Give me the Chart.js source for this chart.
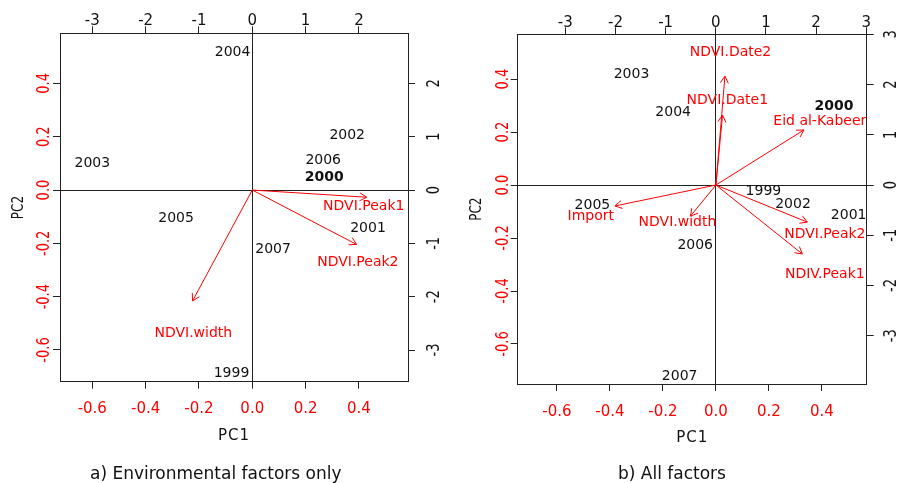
<!DOCTYPE html>
<html>
<head>
<meta charset="utf-8">
<title>PCA biplots</title>
<script src="https://cdn.jsdelivr.net/npm/chart.js@4/dist/chart.umd.min.js"></script>
<style>
  html, body { margin: 0; padding: 0; background: #ffffff; }
  #wrap { position: relative; width: 898px; height: 483px; overflow: hidden; }
  canvas { position: absolute; top: 0; }
  #panelA { left: 0; }
  #panelB { left: 449px; }
</style>
</head>
<body>
<div id="wrap">
  <canvas id="panelA" width="449" height="483"></canvas>
  <canvas id="panelB" width="449" height="483"></canvas>
</div>
<script>
// ---- tick labels ----
const loadingTicks = [-0.6, -0.4, -0.2, 0.0, 0.2, 0.4];
const scoreTicksA = [-3, -2, -1, 0, 1, 2];
const scoreTicksB = [-3, -2, -1, 0, 1, 2, 3];

// ---- a) Environmental factors only ----
// year scores (PC1, PC2)
const yearsA = ['2004', '2003', '2002', '2006', '2000', '2005', '2001', '2007', '1999'];
const scorePC1A = [-0.37, -3.00, 1.78, 1.33, 1.35, -1.43, 2.17, 0.39, -0.39];
const scorePC2A = [2.58, 0.50, 1.03, 0.55, 0.24, -0.53, -0.72, -1.12, -3.44];
// variable loadings: arrow tips and label anchors
const varsA = ['NDVI.Peak1', 'NDVI.Peak2', 'NDVI.width'];
const arrowPC1A = [0.429, 0.391, -0.224];
const arrowPC2A = [-0.027, -0.204, -0.416];
const labelPC1A = [0.418, 0.396, -0.221];
const labelPC2A = [-0.063, -0.273, -0.537];

// ---- b) All factors ----
const yearsB = ['2003', '2004', '2000', '1999', '2002', '2001', '2005', '2006', '2007'];
const scorePC1B = [-1.68, -0.85, 2.36, 0.95, 1.54, 2.65, -2.46, -0.41, -0.72];
const scorePC2B = [2.20, 1.44, 1.56, -0.13, -0.38, -0.61, -0.40, -1.20, -3.81];
const varsB = ['NDVI.Date2', 'NDVI.Date1', 'Eid al-Kabeer', 'Import', 'NDVI.width', 'NDVI.Peak2', 'NDIV.Peak1'];
const arrowPC1B = [0.034, 0.025, 0.332, -0.381, -0.096, 0.345, 0.326];
const arrowPC2B = [0.411, 0.264, 0.208, -0.079, -0.117, -0.140, -0.260];
const labelPC1B = [0.055, 0.043, 0.392, -0.472, -0.145, 0.411, 0.411];
const labelPC2B = [0.501, 0.321, 0.239, -0.120, -0.142, -0.186, -0.337];

const boldYear = '2000';

// ---- styling ----
const FONT = '"DejaVu Sans", "Liberation Sans", sans-serif';
const RED = '#ff0000';
const INK = '#111111';
const FRAME = '#222222';

function rotatedText(ctx, text, x, y, px, alongScale, acrossScale) {
  ctx.save();
  ctx.translate(x, y);
  ctx.rotate(-Math.PI / 2);
  ctx.scale(alongScale, acrossScale);
  ctx.font = px + 'px ' + FONT;
  ctx.textAlign = 'center';
  ctx.textBaseline = 'middle';
  ctx.fillText(text, 0, 0);
  ctx.restore();
}

// Arrow heads, text labels, tick labels, axis titles and caption.
const biplotDecor = {
  id: 'biplotDecor',
  afterDatasetsDraw(chart, args, o) {
    const ctx = chart.ctx;
    const a = chart.chartArea;
    const s = chart.scales;
    ctx.save();

    // arrow heads on loading vectors
    chart.data.datasets.forEach((ds, i) => {
      if (ds.role !== 'arrow') return;
      const pts = chart.getDatasetMeta(i).data;
      const p0 = pts[0], p1 = pts[1];
      const ang = Math.atan2(p1.y - p0.y, p1.x - p0.x);
      ctx.strokeStyle = RED;
      ctx.lineWidth = 1;
      ctx.beginPath();
      [-1, 1].forEach(d => {
        ctx.moveTo(p1.x, p1.y);
        ctx.lineTo(p1.x - o.headLen * Math.cos(ang + d * Math.PI / 6),
                   p1.y - o.headLen * Math.sin(ang + d * Math.PI / 6));
      });
      ctx.stroke();
    });

    // year and variable labels
    chart.data.datasets.forEach((ds, i) => {
      if (ds.role !== 'labels') return;
      const pts = chart.getDatasetMeta(i).data;
      ds.data.forEach((d, j) => {
        ctx.font = (d.bold ? 'bold ' : '') + '14px ' + FONT;
        ctx.fillStyle = ds.textColor;
        ctx.textAlign = 'center';
        ctx.textBaseline = 'middle';
        ctx.fillText(d.label, pts[j].x, pts[j].y);
      });
    });

    // bottom (loadings, red) and top (scores, black) tick labels
    ctx.font = '15px ' + FONT;
    ctx.textAlign = 'center';
    ctx.textBaseline = 'middle';
    ctx.fillStyle = RED;
    s.x.ticks.forEach(t => {
      ctx.fillText(t.value.toFixed(1), s.x.getPixelForValue(t.value), a.bottom + o.gapBottom);
    });
    ctx.fillStyle = INK;
    s.x2.ticks.forEach(t => {
      ctx.fillText(String(t.value), s.x2.getPixelForValue(t.value), a.top - o.gapTop);
    });

    // left (loadings, red) and right (scores, black) tick labels
    ctx.fillStyle = RED;
    s.y.ticks.forEach(t => {
      rotatedText(ctx, t.value.toFixed(1), a.left - o.gapLeft, s.y.getPixelForValue(t.value), 13, 1, 1.3);
    });
    ctx.fillStyle = INK;
    s.y2.ticks.forEach(t => {
      rotatedText(ctx, String(t.value), a.right + o.gapRight, s.y2.getPixelForValue(t.value), 13, 1, 1.3);
    });

    // axis titles
    ctx.fillStyle = INK;
    ctx.font = '15px ' + FONT;
    ctx.letterSpacing = '1px';
    ctx.textAlign = 'center';
    ctx.textBaseline = 'middle';
    ctx.fillText(o.xTitle, (a.left + a.right) / 2, a.bottom + o.gapTitleX);
    ctx.letterSpacing = '0px';
    rotatedText(ctx, o.yTitle, a.left - o.gapTitleY, (a.top + a.bottom) / 2, 12, 1, 1.3);

    // panel caption
    ctx.font = '17px ' + FONT;
    ctx.textAlign = 'left';
    ctx.textBaseline = 'alphabetic';
    ctx.fillText(o.caption, o.captionX, o.captionY);

    ctx.restore();
  }
};

function axis(position, range, ticks, onArea, fixedSize) {
  const horizontal = position === 'top' || position === 'bottom';
  return {
    type: 'linear',
    position: position,
    min: range[0],
    max: range[1],
    bounds: 'data',
    afterBuildTicks: sc => { sc.ticks = ticks.map(v => ({ value: v })); },
    ticks: { display: false },
    grid: {
      drawOnChartArea: onArea,
      drawTicks: true,
      tickLength: 7,
      lineWidth: 1,
      color: c => (c.tick && Math.abs(c.tick.value) < 1e-9) ? FRAME : 'rgba(0,0,0,0)',
      tickColor: FRAME
    },
    border: { display: true, color: FRAME, width: 1 },
    afterFit: sc => {
      if (horizontal) sc.height = fixedSize; else sc.width = fixedSize;
    }
  };
}

function buildPanel(canvasId, p) {
  const datasets = [];
  // loading vectors from the origin
  p.arrowX.forEach((x, i) => {
    datasets.push({
      type: 'line', role: 'arrow', xAxisID: 'x', yAxisID: 'y',
      data: [{ x: 0, y: 0 }, { x: x, y: p.arrowY[i] }],
      borderColor: RED, borderWidth: 1, pointRadius: 0, fill: false, tension: 0
    });
  });
  // year scores
  datasets.push({
    type: 'scatter', role: 'labels', textColor: INK, xAxisID: 'x2', yAxisID: 'y2',
    data: p.years.map((y, i) => ({ x: p.scoreX[i], y: p.scoreY[i], label: y, bold: y === boldYear })),
    pointRadius: 0
  });
  // variable names at the loadings
  datasets.push({
    type: 'scatter', role: 'labels', textColor: RED, xAxisID: 'x', yAxisID: 'y',
    data: p.vars.map((v, i) => ({ x: p.labelX[i], y: p.labelY[i], label: v, bold: false })),
    pointRadius: 0
  });

  return new Chart(document.getElementById(canvasId), {
    data: { datasets: datasets },
    options: {
      responsive: false,
      animation: false,
      events: [],
      layout: { padding: 0 },
      scales: {
        x: axis('bottom', p.xRange, loadingTicks, true, p.box.bottom),
        x2: axis('top', p.x2Range, p.scoreTicks, false, p.box.top),
        y: axis('left', p.yRange, loadingTicks, true, p.box.left),
        y2: axis('right', p.y2Range, p.scoreTicks, false, p.box.right)
      },
      plugins: {
        legend: { display: false },
        tooltip: { enabled: false },
        title: { display: false },
        biplotDecor: p.decor
      }
    },
    plugins: [biplotDecor]
  });
}

buildPanel('panelA', {
  years: yearsA, scoreX: scorePC1A, scoreY: scorePC2A,
  vars: varsA, arrowX: arrowPC1A, arrowY: arrowPC2A, labelX: labelPC1A, labelY: labelPC2A,
  scoreTicks: scoreTicksA,
  xRange: [-0.721, 0.584], x2Range: [-3.606, 2.920],
  yRange: [-0.719, 0.588], y2Range: [-3.594, 2.938],
  box: { left: 60, right: 41, top: 33.3, bottom: 101.3 },
  decor: {
    headLen: 8, gapBottom: 27.3, gapTop: 12.6, gapLeft: 15, gapRight: 27,
    gapTitleX: 54.5, gapTitleY: 41, xTitle: 'PC1', yTitle: 'PC2',
    caption: 'a) Environmental factors only', captionX: 90, captionY: 479
  }
});

buildPanel('panelB', {
  years: yearsB, scoreX: scorePC1B, scoreY: scorePC2B,
  vars: varsB, arrowX: arrowPC1B, arrowY: arrowPC2B, labelX: labelPC1B, labelY: labelPC2B,
  scoreTicks: scoreTicksB,
  xRange: [-0.748, 0.569], x2Range: [-3.95, 3.01],
  yRange: [-0.751, 0.569], y2Range: [-3.96, 3.00],
  box: { left: 68.7, right: 31.3, top: 34.3, bottom: 99 },
  decor: {
    headLen: 8, gapBottom: 27.7, gapTop: 11.6, gapLeft: 14.5, gapRight: 25,
    gapTitleX: 54.3, gapTitleY: 41, xTitle: 'PC1', yTitle: 'PC2',
    caption: 'b) All factors', captionX: 169, captionY: 479
  }
});
</script>
</body>
</html>
